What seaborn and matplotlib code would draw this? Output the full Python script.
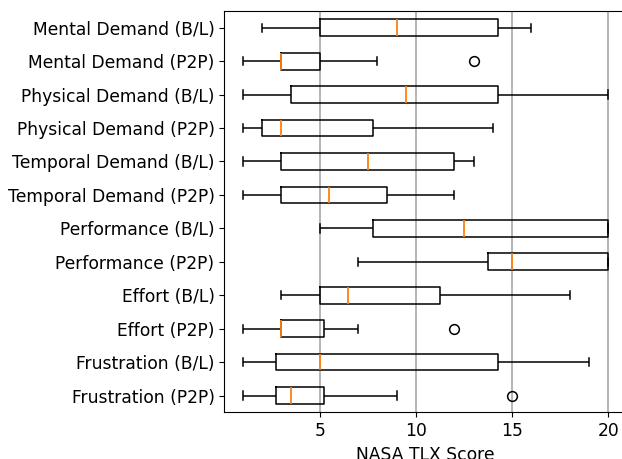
import pandas as pd
import matplotlib
matplotlib.use('Agg')
import matplotlib.pyplot as plt
import seaborn as sns

# NASA TLX scores per measure
measures = [
    'Mental Demand (B/L)', 'Mental Demand (P2P)',
    'Physical Demand (B/L)', 'Physical Demand (P2P)',
    'Temporal Demand (B/L)', 'Temporal Demand (P2P)',
    'Performance (B/L)', 'Performance (P2P)',
    'Effort (B/L)', 'Effort (P2P)',
    'Frustration (B/L)', 'Frustration (P2P)',
]
mental_bl = [2, 4, 5, 7, 9, 12, 14.25, 15, 16]
mental_p2p = [1, 2, 3, 3, 3, 4, 5, 8, 13]
physical_bl = [1, 2, 3.5, 6, 9.5, 12, 14.25, 17, 20]
physical_p2p = [1, 1.5, 2, 2.5, 3, 5, 7.75, 10, 14]
temporal_bl = [1, 2, 3, 5, 7.5, 10, 12, 12.5, 13]
temporal_p2p = [1, 2, 3, 4, 5.5, 7, 8.5, 10, 12]
performance_bl = [5, 6, 7.75, 10, 12.5, 15, 20, 20, 20]
performance_p2p = [7, 10, 13.75, 14, 15, 17, 20, 20, 20]
effort_bl = [3, 4, 5, 6, 6.5, 9, 11.25, 15, 18]
effort_p2p = [1, 2, 3, 3, 3, 4, 5.25, 7, 12]
frustration_bl = [1, 2, 2.75, 4, 5, 10, 14.25, 17, 19]
frustration_p2p = [1, 2, 2.75, 3, 3.5, 4, 5.25, 9, 15]

scores = [mental_bl, mental_p2p, physical_bl, physical_p2p,
          temporal_bl, temporal_p2p, performance_bl, performance_p2p,
          effort_bl, effort_p2p, frustration_bl, frustration_p2p]

rows = []
for name, vals in zip(measures, scores):
    for v in vals:
        rows.append({'measure': name, 'score': v})
df = pd.DataFrame(rows)

plt.rcParams['font.size'] = 12.3

fig = plt.figure(figsize=(6.22, 4.59), dpi=100)
ax = fig.add_axes([224.3 / 622, (459 - 412.3) / 459,
                   (626.6 - 224.3) / 622, (412.3 - 11) / 459])

sns.boxplot(data=df, x='score', y='measure', order=measures, ax=ax,
            fill=False, color='black', linecolor='black', linewidth=1.1,
            width=0.5, whis=1.5,
            medianprops={'color': '#ff7f0e', 'linewidth': 1.3},
            flierprops={'marker': 'o', 'markersize': 7,
                        'markeredgecolor': 'black', 'markerfacecolor': 'none',
                        'markeredgewidth': 1.1})

ax.set_xlim(0.05, 20.95)
ax.set_xticks([5, 10, 15, 20])
ax.xaxis.grid(True, color='#a8a8a8', linewidth=1.2)
ax.set_axisbelow(True)
ax.set_xlabel('NASA TLX Score')
ax.set_ylabel('')

fig.savefig('out.png', dpi=100)
